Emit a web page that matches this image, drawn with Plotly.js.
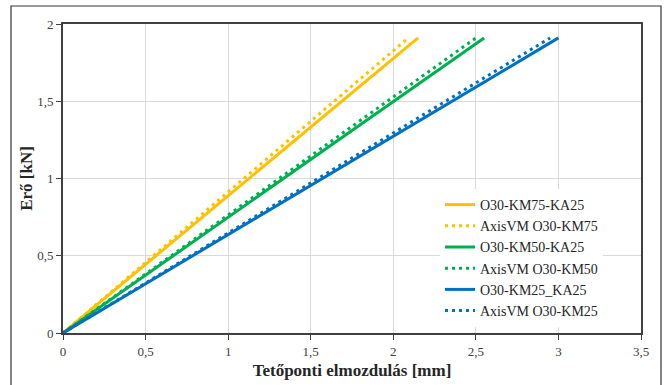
<!DOCTYPE html>
<html>
<head>
<meta charset="utf-8">
<script src="https://cdn.plot.ly/plotly-3.0.1.min.js"></script>
<style>
html,body{margin:0;padding:0;background:#fff;}
#chart{width:667px;height:385px;}
</style>
</head>
<body>
<div id="chart"></div>
<script>
// Data (displacement [mm] vs force [kN])
const seriesNames = ["O30-KM75-KA25", "AxisVM O30-KM75", "O30-KM50-KA25", "AxisVM O30-KM50", "O30-KM25_KA25", "AxisVM O30-KM25"];
const km75_x = [0, 2.15];
const km75_y = [0, 1.91];
const axis75_x = [0, 2.08];
const axis75_y = [0, 1.90];
const km50_x = [0, 2.55];
const km50_y = [0, 1.91];
const axis50_x = [0, 2.50];
const axis50_y = [0, 1.91];
const km25_x = [0, 3.0];
const km25_y = [0, 1.91];
const axis25_x = [0, 2.95];
const axis25_y = [0, 1.91];
const xTickVals = [0, 0.5, 1, 1.5, 2, 2.5, 3, 3.5];
const xTickText = ["0", "0,5", "1", "1,5", "2", "2,5", "3", "3,5"];
const yTickVals = [0, 0.5, 1, 1.5, 2];
const yTickText = ["0", "0,5", "1", "1,5", "2"];

const orange = "#FFC000", green = "#00B050", blue = "#0070C0";
const dotted = "3px,4px";

const xs = [km75_x, axis75_x, km50_x, axis50_x, km25_x, axis25_x];
const ys = [km75_y, axis75_y, km50_y, axis50_y, km25_y, axis25_y];
const colors = [orange, orange, green, green, blue, blue];
const dashes = ["solid", dotted, "solid", dotted, "solid", dotted];

const traces = seriesNames.map((n, i) => ({
  x: xs[i], y: ys[i], name: n, type: "scatter", mode: "lines",
  line: {color: colors[i], width: 3, dash: dashes[i]},
  hoverinfo: "skip"
}));

const serif = "Liberation Serif";
const W = 667, H = 385, L = 63, R = 26, T = 24, B = 52;
const pw = W - L - R, ph = H - T - B;
const px = p => (p - L) / pw;
const py = p => (H - B - p) / ph;

const layout = {
  width: W, height: H,
  margin: {l: L, r: R, t: T, b: B, pad: 0},
  paper_bgcolor: "#fff", plot_bgcolor: "#fff",
  font: {family: serif},
  showlegend: true,
  xaxis: {
    range: [0, 3.5], tickvals: xTickVals, ticktext: xTickText,
    showgrid: true, gridcolor: "#d9d9d9", gridwidth: 1,
    zeroline: false, showline: true, linecolor: "#404040", linewidth: 2, mirror: true,
    ticks: "outside", ticklen: 5, tickcolor: "#404040", tickwidth: 1,
    tickfont: {family: serif, size: 13, color: "#404040"},
    title: {text: "<b>Tetőponti elmozdulás [mm]</b>", font: {family: serif, size: 17, color: "#262626"}, standoff: 7},
    fixedrange: true
  },
  yaxis: {
    range: [0, 2], tickvals: yTickVals, ticktext: yTickText,
    showgrid: true, gridcolor: "#d9d9d9", gridwidth: 1,
    zeroline: false, showline: true, linecolor: "#404040", linewidth: 2, mirror: true,
    ticks: "outside", ticklen: 5, tickcolor: "#404040", tickwidth: 1,
    tickfont: {family: serif, size: 13, color: "#404040"},
    title: {text: "<b>Erő [kN]</b>", font: {family: serif, size: 17, color: "#262626"}, standoff: 0},
    fixedrange: true
  },
  legend: {
    x: px(440), y: py(189), xanchor: "left", yanchor: "top",
    bgcolor: "#fff", borderwidth: 0,
    font: {family: serif, size: 14, color: "#262626"},
    tracegroupgap: 0
  },
  shapes: [{
    type: "rect", xref: "paper", yref: "paper",
    x0: px(11), x1: px(661), y0: py(400), y1: py(6),
    line: {color: "#333", width: 1.2}, fillcolor: "rgba(0,0,0,0)", layer: "below"
  }]
};

Plotly.newPlot("chart", traces, layout, {displayModeBar: false, staticPlot: true});
</script>
</body>
</html>
